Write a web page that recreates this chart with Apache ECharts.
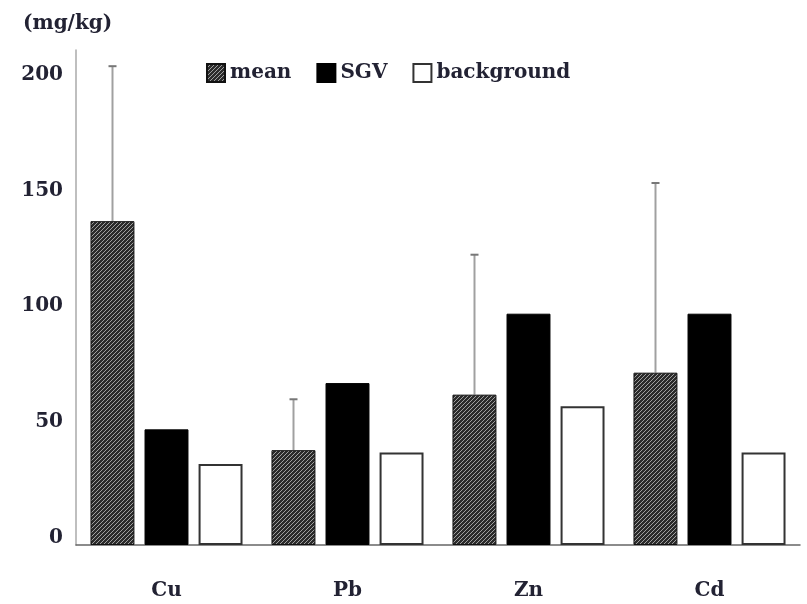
<!DOCTYPE html>
<html>
<head>
<meta charset="utf-8">
<script src="https://cdn.jsdelivr.net/npm/echarts@6/dist/echarts.min.js"></script>
<style>html,body{margin:0;padding:0;background:#fff;}#c{width:807px;height:604px;}</style>
</head>
<body>
<div id="c"></div>
<script>
const categories = ['Cu', 'Pb', 'Zn', 'Cd'];
const meanValues = [140, 41, 65, 74.5];
const meanUpper = [207, 63, 125.5, 156.5];
const sgvValues = [50, 70, 100, 100];
const backgroundValues = [35, 40, 60, 40];
const yTicks = [0, 50, 100, 150, 200];

const FONT = 'DejaVu Serif';
const TXT = '#222233';

function makePattern() {
  const c = document.createElement('canvas');
  c.width = 4; c.height = 4;
  const g = c.getContext('2d');
  g.fillStyle = '#2b2b2b';
  g.fillRect(0, 0, 4, 4);
  g.fillStyle = '#a0a0a0';
  for (let i = 0; i < 4; i++) {
    g.fillRect(i, (3 - i), 1, 1);
  }
  return c;
}
const pattern = { image: makePattern(), repeat: 'repeat' };

const CAT_GAP = 0.16, BAR_GAP = 0.23;

const chart = echarts.init(document.getElementById('c'));
chart.setOption({
  animation: false,
  backgroundColor: '#fff',
  title: {
    text: '(mg/kg)', left: 18, top: 9,
    textStyle: { fontFamily: FONT, fontSize: 20, fontWeight: 'bold', color: TXT }
  },
  legend: {
    data: ['mean', 'SGV', 'background'],
    icon: 'rect',
    left: 201, top: 58,
    itemWidth: 18, itemHeight: 18, itemGap: 25,
    textStyle: { fontFamily: FONT, fontSize: 20, fontWeight: 'bold', color: TXT }
  },
  grid: { left: 76, right: 7, top: 50, bottom: 59 },
  xAxis: {
    type: 'category',
    data: categories,
    axisTick: { show: false },
    axisLine: { lineStyle: { color: '#666', width: 1.5 } },
    axisLabel: { margin: 36, fontFamily: FONT, fontSize: 20, fontWeight: 'bold', color: TXT }
  },
  yAxis: {
    type: 'value', min: 0, max: 214, interval: 50,
    splitLine: { show: false },
    axisTick: { show: false },
    axisLine: { show: true, lineStyle: { color: '#aaa', width: 1.5 } },
    axisLabel: {
      margin: 13, verticalAlign: 'bottom', lineHeight: 15,
      fontFamily: FONT, fontSize: 20, fontWeight: 'bold', color: TXT,
      formatter: v => (yTicks.indexOf(v) >= 0 ? String(v) : '')
    }
  },
  series: [
    {
      name: 'mean', type: 'bar', data: meanValues,
      barGap: (BAR_GAP * 100) + '%', barCategoryGap: (CAT_GAP * 100) + '%',
      itemStyle: { color: pattern, borderColor: '#111', borderWidth: 1 }
    },
    {
      name: 'SGV', type: 'bar', data: sgvValues,
      barGap: (BAR_GAP * 100) + '%', barCategoryGap: (CAT_GAP * 100) + '%',
      itemStyle: { color: '#000', borderColor: '#000', borderWidth: 1 }
    },
    {
      name: 'background', type: 'bar', data: backgroundValues,
      barGap: (BAR_GAP * 100) + '%', barCategoryGap: (CAT_GAP * 100) + '%',
      itemStyle: { color: '#fff', borderColor: '#333', borderWidth: 2 }
    },
    {
      name: 'error', type: 'custom',
      data: categories.map((c, i) => [i, meanValues[i], meanUpper[i]]),
      encode: { x: 0, y: [1, 2] },
      z: 1,
      renderItem: function (params, api) {
        const W = api.size([1, 0])[0];
        const b = W * (1 - CAT_GAP) / (3 + 2 * BAR_GAP);
        const off = -b * (1 + BAR_GAP);
        const p0 = api.coord([api.value(0), api.value(1)]);
        const p1 = api.coord([api.value(0), api.value(2)]);
        const x = Math.round(p0[0] + off) + 0.5;
        return {
          type: 'group',
          children: [
            { type: 'line', shape: { x1: x, y1: p0[1], x2: x, y2: p1[1] },
              style: { stroke: '#a0a0a0', lineWidth: 2 } },
            { type: 'line', shape: { x1: x - 4, y1: p1[1], x2: x + 4, y2: p1[1] },
              style: { stroke: '#777', lineWidth: 2 } }
          ]
        };
      }
    }
  ]
});
</script>
</body>
</html>
